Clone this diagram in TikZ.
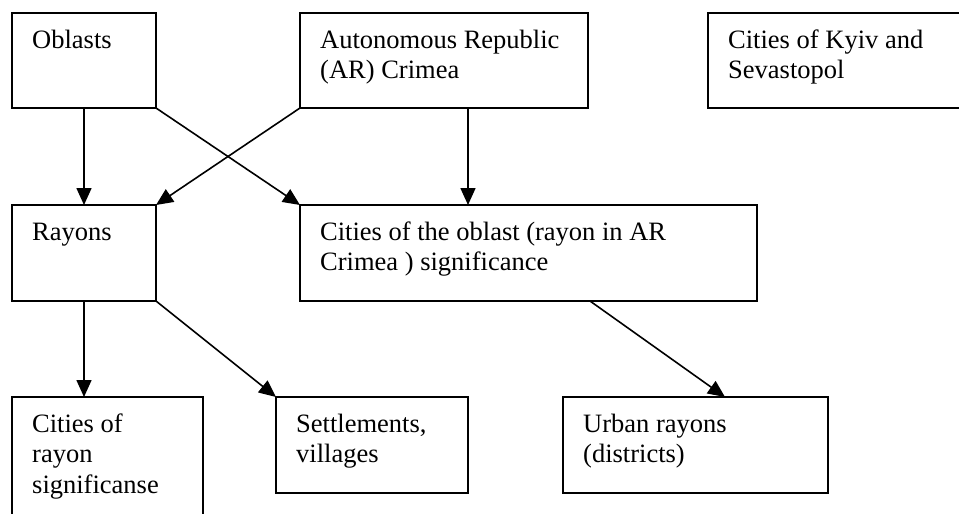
\documentclass[tikz,border=0pt]{standalone}
\usepackage{fontspec}
\setmainfont{Liberation Serif}
\usetikzlibrary{arrows.meta,calc}
\tikzset{
  box/.style={draw, line width=1.6pt, rectangle, inner sep=0pt, outer sep=0pt, anchor=north west},
  txt/.style={anchor=base west, inner sep=0pt, font=\fontsize{26.5}{30.5}\selectfont},
  arr/.style={line width=1.6pt, -{Triangle[length=17pt,width=15pt]}}
}
\newcommand{\bx}[6]{% name, x, y, w, h, text
  \node[box, minimum width=#4pt, minimum height=#5pt] (#1) at (#2,#3) {};
  \node[txt] (#1t) at ($(#1.north west)+(20pt,-35pt)$) {\parbox[t]{#4pt}{#6}};
}
\begin{document}
\begin{tikzpicture}[x=1pt,y=-1pt]
\clip (0,0) rectangle (959,514);
\fill[white] (0,0) rectangle (959,514);
\bx{oblasts}{12}{13}{144}{95}{Oblasts}
\bx{ar}{300}{13}{288}{95}{Autonomous Republic\\(AR) Crimea}
\bx{kyiv}{708}{13}{270}{95}{Cities of Kyiv and\\Sevastopol}
\bx{rayons}{12}{205}{144}{96}{Rayons}
\bx{cityobl}{300}{205}{457}{96}{Cities of the oblast (rayon in AR\\Crimea ) significance}
\bx{cityray}{12}{397}{191}{135}{Cities of\\rayon\\significanse}
\bx{settle}{276}{397}{192}{96}{Settlements,\\villages}
\bx{urban}{563}{397}{265}{96}{Urban rayons\\(districts)}
\draw[arr] (oblasts.south) -- (rayons.north);
\draw[arr] (oblasts.south east) -- (cityobl.north west);
\draw[arr] (ar.south west) -- (rayons.north east);
\draw[arr] ($(ar.south west)+(168pt,0)$) -- ($(cityobl.north west)+(168pt,0)$);
\draw[arr] (rayons.south) -- (rayons.south |- cityray.north);
\draw[arr] (rayons.south east) -- (settle.north west);
\draw[arr] ($(cityobl.south west)+(290pt,0)$) -- ($(urban.north west)+(162pt,0)$);
\end{tikzpicture}
\end{document}
